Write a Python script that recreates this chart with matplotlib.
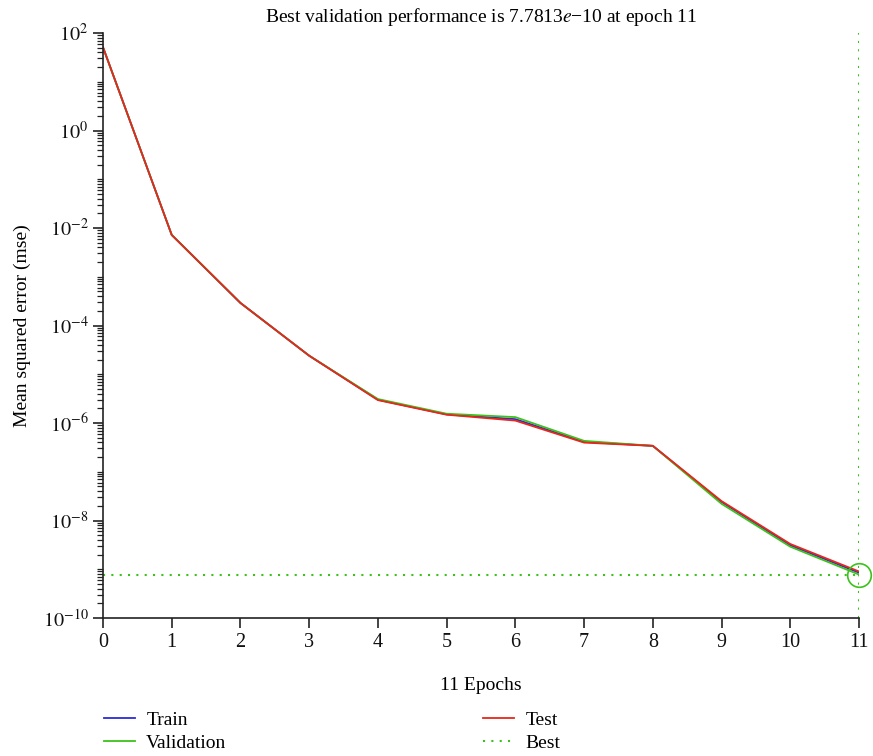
import numpy as np
import matplotlib
matplotlib.use("Agg")
import matplotlib.pyplot as plt
from matplotlib.ticker import FixedLocator, FuncFormatter, NullFormatter

plt.rcParams['font.family'] = ['Liberation Serif', 'DejaVu Serif']
plt.rcParams['mathtext.fontset'] = 'stix'

# performance per epoch
epochs = np.arange(0, 12)
train = [51, 7.2e-3, 2.9e-4, 2.4e-5, 3.0e-6, 1.5e-6, 1.2e-6, 4.1e-7, 3.4e-7, 2.4e-8, 3.1e-9, 8.5e-10]
validation = [51, 7.2e-3, 2.9e-4, 2.4e-5, 3.1e-6, 1.55e-6, 1.32e-6, 4.3e-7, 3.4e-7, 2.2e-8, 2.9e-9, 7.7813e-10]
test = [51, 7.2e-3, 2.9e-4, 2.4e-5, 2.95e-6, 1.48e-6, 1.12e-6, 3.96e-7, 3.4e-7, 2.5e-8, 3.3e-9, 9.0e-10]
best_epoch = 11
best_perf = 7.7813e-10

c_train = '#2b2bd9'
c_val = '#3cc21a'
c_test = '#e8261a'

fig = plt.figure(figsize=(8.73, 7.56), dpi=100)
ax = fig.add_axes([103/873, 1 - 618/756, (859 - 103)/873, (618 - 33)/756])

ax.plot(epochs, train, color=c_train, lw=1.3, label='Train')
ax.plot(epochs, validation, color=c_val, lw=1.3, label='Validation')
ax.plot(epochs, test, color=c_test, lw=1.3, label='Test')
ax.plot([0, best_epoch], [best_perf, best_perf], color=c_val, ls=(0, (1, 3)), lw=1.5, label='Best')
ax.axvline(best_epoch, color=c_val, ls=(0, (1, 3)), lw=1.5)
ax.plot([best_epoch], [best_perf], 'o', ms=17, mfc='none', mec=c_val, mew=1.2, clip_on=False)

ax.set_yscale('log')
ax.set_xlim(0, 11)
ax.set_ylim(1e-10, 1e2)
ax.set_xticks(epochs)

majors = [10.0 ** k for k in range(-10, 3, 2)]
minors = [m * 10.0 ** k for k in range(-10, 2) for m in range(1, 10)]
minors = [v for v in minors if v not in majors]
ax.yaxis.set_major_locator(FixedLocator(majors))
ax.yaxis.set_minor_locator(FixedLocator(minors))
ax.yaxis.set_major_formatter(FuncFormatter(lambda v, p: r'$10^{%d}$' % round(np.log10(v))))
ax.yaxis.set_minor_formatter(NullFormatter())

for s in ['top', 'right']:
    ax.spines[s].set_visible(False)
for s in ['left', 'bottom']:
    ax.spines[s].set_color('#222222')
    ax.spines[s].set_linewidth(1.2)
ax.tick_params(axis='both', which='major', direction='out', length=7, width=1.1,
               labelsize=14.5, colors='#111111')
ax.tick_params(axis='y', which='minor', direction='out', length=4, width=0.9, colors='#222222')

ax.set_title(r'Best validation performance is 7.7813$\mathit{e}$−10 at epoch 11',
             fontsize=14, pad=8)
ax.set_xlabel('11 Epochs', fontsize=14, labelpad=18)
ax.set_ylabel('Mean squared error (mse)', fontsize=14, labelpad=8)

h, l = ax.get_legend_handles_labels()
fig.legend([h[0], h[1]], [l[0], l[1]], loc='upper left',
           bbox_to_anchor=(86/873, 1 - 694/756), frameon=False, fontsize=14,
           handlelength=1.6, handletextpad=0.6, labelspacing=0.28)
fig.legend([h[2], h[3]], [l[2], l[3]], loc='upper left',
           bbox_to_anchor=(465/873, 1 - 694/756), frameon=False, fontsize=14,
           handlelength=1.6, handletextpad=0.6, labelspacing=0.28)

fig.savefig('out.png', dpi=100)
